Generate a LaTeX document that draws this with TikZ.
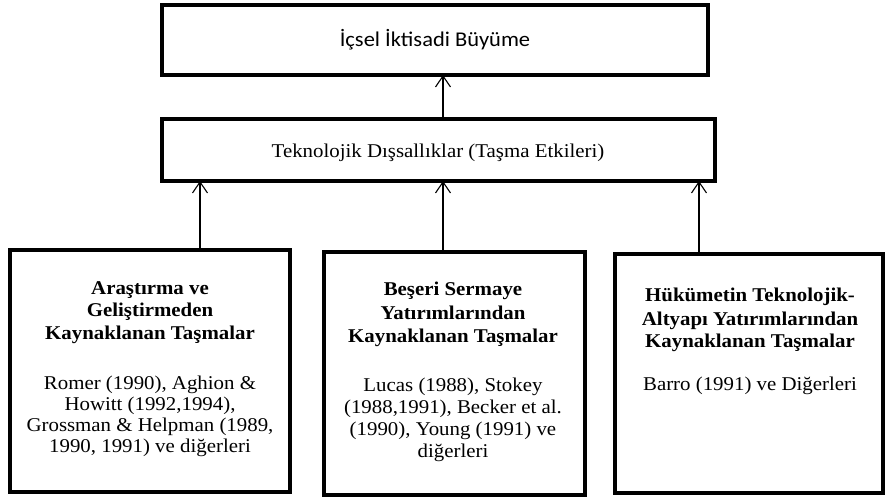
\documentclass[tikz,border=0pt]{standalone}
\usepackage{fontspec}
\setmainfont[FakeStretch=1.07]{Liberation Serif}
\newfontfamily\calib[FakeStretch=1.07]{Carlito}
\usetikzlibrary{arrows.meta}
\begin{document}
\begin{tikzpicture}[x=1pt,y=-1pt,
  box/.style={draw=black,line width=4pt,fill=white,inner sep=0pt,outer sep=0pt},
  arr/.style={draw=black,line width=1.1pt,-{Straight Barb[length=11pt,width=15pt,line width=1.1pt]}},
  reg/.style={font=\fontsize{19.5}{22}\selectfont,inner sep=0pt,anchor=base},
  bld/.style={font=\fontsize{19.5}{22}\selectfont\bfseries,inner sep=0pt,anchor=base}
]
\useasboundingbox[fill=white] (0,0) rectangle (888,499);
% boxes
\node[box,minimum width=546pt,minimum height=70pt] (top) at (435,40) {};
\node[box,minimum width=553pt,minimum height=62pt] (mid) at (438.5,150) {};
\node[box,minimum width=280pt,minimum height=242pt] (b1) at (150,371) {};
\node[box,minimum width=261pt,minimum height=243pt] (b2) at (454.5,373.5) {};
\node[box,minimum width=268pt,minimum height=239pt] (b3) at (749,373.5) {};
% top and middle texts
\node[font=\calib\fontsize{21}{24}\selectfont,inner sep=0pt] (toptxt) at (top.center) {İçsel İktisadi Büyüme};
\node[font=\fontsize{19.5}{22}\selectfont,inner sep=0pt,anchor=base] (midtxt) at (438,157) {Teknolojik Dışsallıklar (Taşma Etkileri)};
% box 1
\node[bld] (b1t1) at (150,294) {Araştırma ve};
\node[bld] (b1t2) at (150,316.5) {Geliştirmeden};
\node[bld] (b1t3) at (150,339) {Kaynaklanan Taşmalar};
\node[reg] (b1r1) at (150,389) {Romer (1990), Aghion \&};
\node[reg] (b1r2) at (150,410) {Howitt (1992,1994),};
\node[reg] (b1r3) at (150,431.5) {Grossman \& Helpman (1989,};
\node[reg] (b1r4) at (150,452) {1990, 1991) ve diğerleri};
% box 2
\node[bld] (b2t1) at (453,295) {Beşeri Sermaye};
\node[bld] (b2t2) at (453,319) {Yatırımlarından};
\node[bld] (b2t3) at (453,342) {Kaynaklanan Taşmalar};
\node[reg] (b2r1) at (453,391) {Lucas (1988), Stokey};
\node[reg] (b2r2) at (453,413) {(1988,1991), Becker et al.};
\node[reg] (b2r3) at (453,435) {(1990), Young (1991) ve};
\node[reg] (b2r4) at (453,457) {diğerleri};
% box 3
\node[bld] (b3t1) at (750,301.5) {Hükümetin Teknolojik-};
\node[bld] (b3t2) at (750,325) {Altyapı Yatırımlarından};
\node[bld] (b3t3) at (750,347) {Kaynaklanan Taşmalar};
\node[reg] (b3r1) at (750,390) {Barro (1991) ve Diğerleri};
% connectors
\draw[arr] (mid.north -| 443,0) -- (top.south -| 443,0);
\draw[arr] (b1.north -| 200,0) -- (mid.south -| 200,0);
\draw[arr] (b2.north -| 443,0) -- (mid.south -| 443,0);
\draw[arr] (b3.north -| 699,0) -- (mid.south -| 699,0);
\end{tikzpicture}
\end{document}
